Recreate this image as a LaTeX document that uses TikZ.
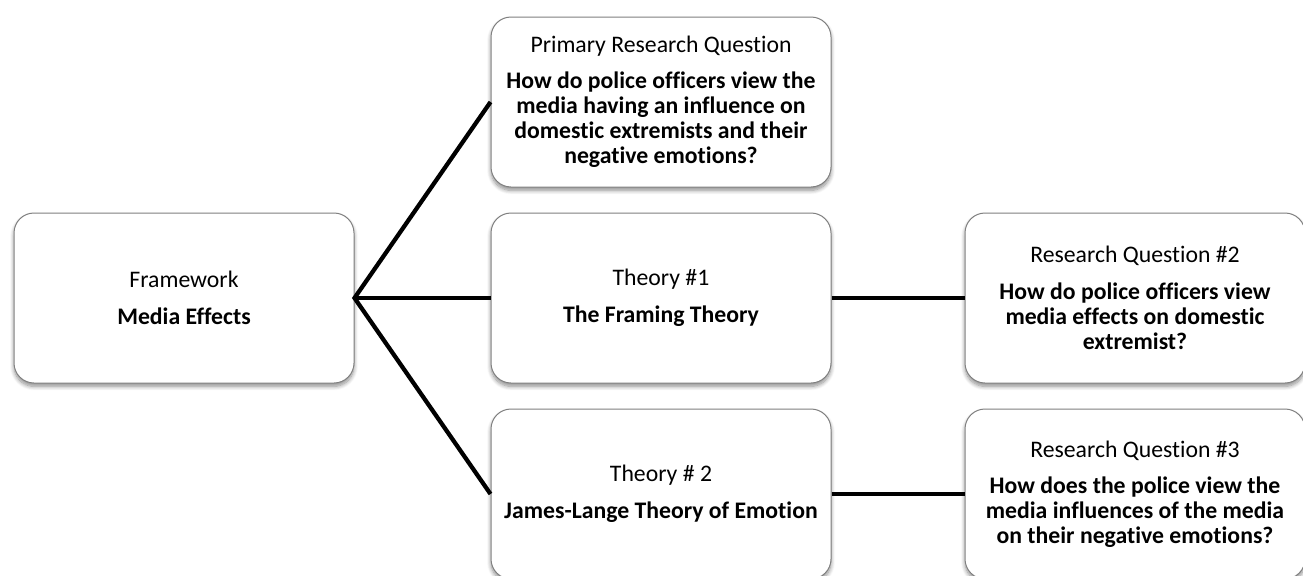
\documentclass[tikz,border=0pt]{standalone}
\usepackage{fontspec}
\setmainfont[Ligatures=NoCommon]{Carlito}
\usetikzlibrary{shadows.blur}
\tikzset{
  box/.style={draw=black!50, line width=0.75pt, fill=white, rounded corners=15pt,
    minimum width=255pt, minimum height=127.5pt, align=center, inner sep=4pt,
    font=\fontsize{17.8}{18.75}\selectfont,
    blur shadow={shadow xshift=0pt, shadow yshift=-2.5pt, shadow blur radius=3pt, shadow opacity=45, shadow blur steps=8}},
  conn/.style={line width=3.2pt, black}
}
\begin{document}
\begin{tikzpicture}[x=0.75pt, y=-0.75pt]
\useasboundingbox (0,0) rectangle (1303,575);
\node[box] (fw) at (184,298) {Framework\\[9pt]\textbf{Media Effects}};
\node[box] (prq) at (661,102) {Primary Research Question\\[8.5pt]\textbf{How do police officers view the}\\\textbf{media having an influence on}\\\textbf{domestic extremists and their}\\\textbf{negative emotions?}};
\node[box] (t1) at (661,298) {Theory \#1\\[9pt]\textbf{The Framing Theory}};
\node[box] (t2) at (661,494) {Theory \# 2\\[9pt]\textbf{James-Lange Theory of Emotion}};
\node[box] (rq2) at (1135,298) {Research Question \#2\\[8.5pt]\textbf{How do police officers view}\\\textbf{media effects on domestic}\\\textbf{extremist?}};
\node[box] (rq3) at (1135,494) {Research Question \#3\\[8.5pt]\textbf{How does the police view the}\\\textbf{media influences of the media}\\\textbf{on their negative emotions?}};
\draw[conn] (prq.west) -- (fw.east) -- (t2.west);
\draw[conn] (fw.east) -- (t1.west);
\draw[conn] (t1.east) -- (rq2.west);
\draw[conn] (t2.east) -- (rq3.west);
\end{tikzpicture}
\end{document}
